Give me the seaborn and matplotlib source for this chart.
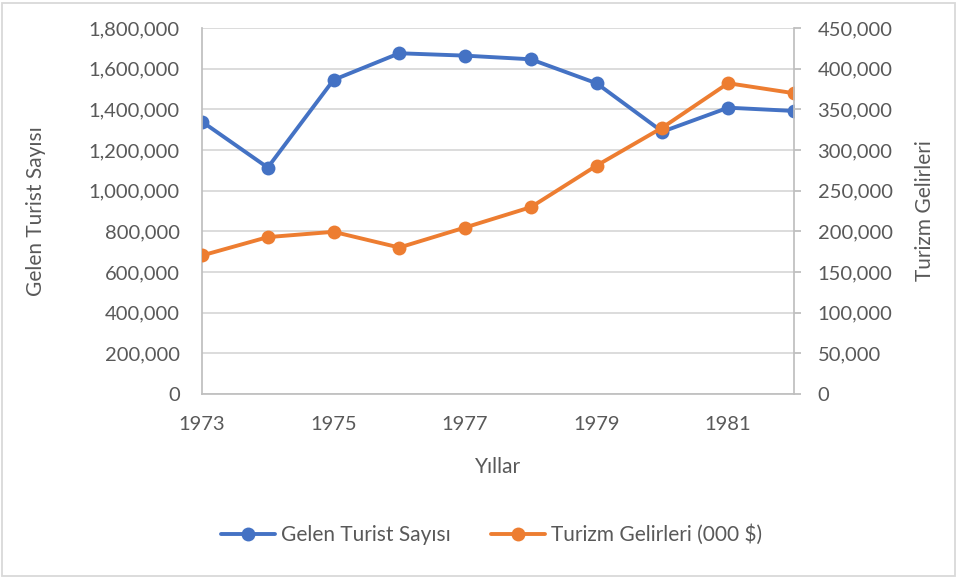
import matplotlib
matplotlib.use("Agg")
import matplotlib.pyplot as plt
from matplotlib.patches import Rectangle
from matplotlib.ticker import FuncFormatter
import seaborn as sns
import pandas as pd

years = [1973, 1974, 1975, 1976, 1977, 1978, 1979, 1980, 1981, 1982]
tourists = [1339500, 1113500, 1544500, 1675700, 1664000, 1646000, 1528000, 1290000, 1408000, 1392000]
revenue = [170300, 192900, 199400, 180100, 204700, 229700, 280800, 327500, 382100, 369800]

blue = "#4472C4"
orange = "#ED7D31"
grid_c = "#D9D9D9"
text_c = "#595959"

sns.set_theme(style="white")
plt.rcParams["font.family"] = ["Lato", "DejaVu Sans"]

df = pd.DataFrame({"Yil": years, "Turist": tourists, "Gelir": revenue})

fig = plt.figure(figsize=(9.6, 5.78), dpi=100)
ax = fig.add_axes([0.2104, 0.3183, 0.827 - 0.2104, 0.9516 - 0.3183])
ax2 = ax.twinx()

sns.lineplot(data=df, x="Yil", y="Turist", ax=ax, color=blue, marker="o",
             linewidth=2.8, markersize=10, markeredgewidth=0, label="Gelen Turist Sayısı", legend=False)
sns.lineplot(data=df, x="Yil", y="Gelir", ax=ax2, color=orange, marker="o",
             linewidth=2.8, markersize=10, markeredgewidth=0, label="Turizm Gelirleri (000 $)", legend=False)

ax.set_xlim(1973, 1982)
ax.set_ylim(0, 1800000)
ax2.set_ylim(0, 450000)
ax.set_xticks([1973, 1975, 1977, 1979, 1981])
ax.set_yticks(range(0, 1800001, 200000))
ax2.set_yticks(range(0, 450001, 50000))
fmt = FuncFormatter(lambda v, p: f"{int(v):,}")
ax.yaxis.set_major_formatter(fmt)
ax2.yaxis.set_major_formatter(fmt)

ax.yaxis.grid(True, color=grid_c, linewidth=1.3)
ax.set_axisbelow(True)

for a in (ax, ax2):
    for s in a.spines.values():
        s.set_visible(False)
    a.tick_params(colors=text_c, labelsize=14.5)
ax.spines["left"].set_visible(True)
ax.spines["left"].set_color("#BFBFBF")
ax.spines["bottom"].set_visible(True)
ax.spines["bottom"].set_color("#BFBFBF")
ax2.spines["right"].set_visible(True)
ax2.spines["right"].set_color("#BFBFBF")
ax.tick_params(axis="y", length=0, pad=16)
ax.tick_params(axis="x", length=0, pad=16)
ax2.tick_params(axis="y", length=5, width=1.3, color="#BFBFBF", pad=12)

ax.set_xlabel("Yıllar", fontsize=15, color=text_c)
ax.set_ylabel("Gelen Turist Sayısı", fontsize=15, color=text_c)
ax2.set_ylabel("Turizm Gelirleri", fontsize=15, color=text_c)
ax.xaxis.set_label_coords(0.5, -0.172)
ax.yaxis.set_label_coords(-0.263, 0.5)
ax2.yaxis.set_label_coords(1.205, 0.5)

h1, l1 = ax.get_legend_handles_labels()
h2, l2 = ax2.get_legend_handles_labels()
fig.legend(h1 + h2, l1 + l2, loc="center", bbox_to_anchor=(0.512, 0.0744), ncol=2,
           frameon=False, fontsize=15, labelcolor=text_c, handlelength=2.6,
           columnspacing=1.9, handletextpad=0.3)

fig.add_artist(Rectangle((0.002, 0.004), 0.993, 0.99, transform=fig.transFigure,
                         fill=False, edgecolor=grid_c, linewidth=1.3))

fig.savefig("out.png", dpi=100)
